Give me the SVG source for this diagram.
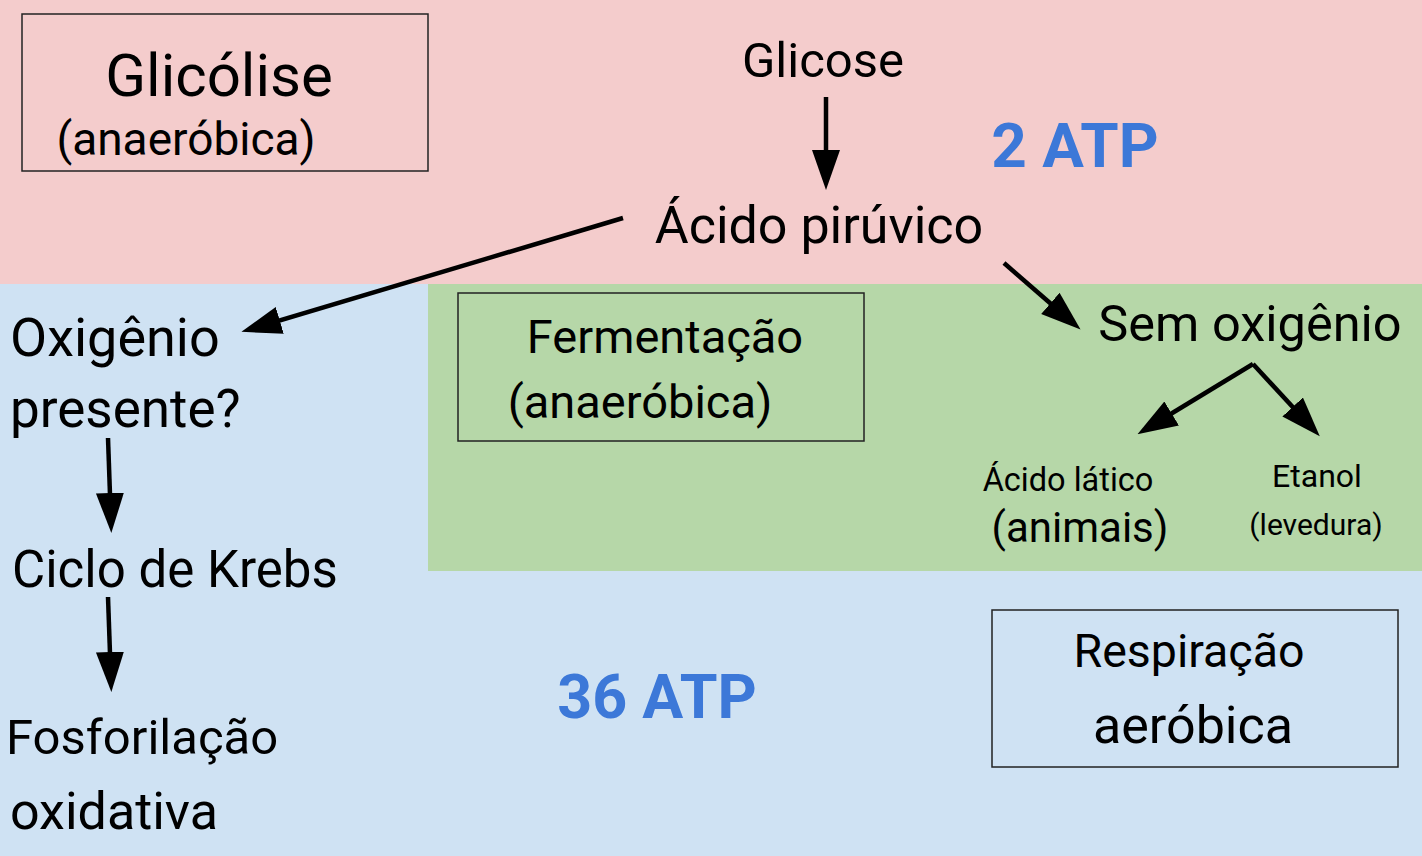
<svg xmlns="http://www.w3.org/2000/svg" width="1422" height="856" viewBox="0 0 1422 856">
<style>
.t{font-family:Roboto,"Open Sans",sans-serif;fill:#000}
.m{text-anchor:middle}
.atp{font-family:Roboto,"Open Sans",sans-serif;font-weight:bold;fill:#3c78d8;text-anchor:middle}
.box{fill:none;stroke:#222;stroke-width:1.5}
.arr{stroke:#000;stroke-width:4.5;fill:none;marker-end:url(#ah)}
</style>
<defs>
<marker id="ah" markerUnits="userSpaceOnUse" markerWidth="40" markerHeight="30" refX="30" refY="15" orient="auto">
<path d="M0,1 L40,15 L0,29 z" fill="#000"/>
</marker>
</defs>
<g id="backgrounds">
<rect x="0" y="0" width="1422" height="284" fill="#f4cccc"/>
<rect x="0" y="284" width="1422" height="572" fill="#cfe2f3"/>
<rect x="428" y="284" width="994" height="287" fill="#b6d7a8"/>
</g>
<g id="glicolise">
<rect class="box" x="22" y="14" width="406" height="157"/>
<text class="t m" x="219" y="96" font-size="60">Glicólise</text>
<text class="t m" x="186" y="155" font-size="46">(anaeróbica)</text>
</g>
<g id="glicose"><text class="t m" x="823" y="77" font-size="49">Glicose</text></g>
<g id="atp2"><text class="atp" x="1075" y="167" font-size="62">2 ATP</text></g>
<g id="piruvico"><text class="t m" x="819" y="243" font-size="52">Ácido pirúvico</text></g>
<g id="oxigenio">
<text class="t" x="10" y="356" font-size="54">Oxigênio</text>
<text class="t" x="10" y="427" font-size="53">presente?</text>
</g>
<g id="fermentacao">
<rect class="box" x="458" y="293" width="406" height="148"/>
<text class="t m" x="665" y="353" font-size="47">Fermentação</text>
<text class="t m" x="640" y="418" font-size="47">(anaeróbica)</text>
</g>
<g id="sem"><text class="t m" x="1250" y="341" font-size="50.5">Sem oxigênio</text></g>
<g id="latico">
<text class="t m" x="1068" y="491" font-size="32.5">Ácido lático</text>
<text class="t m" x="1080" y="542" font-size="42">(animais)</text>
</g>
<g id="etanol">
<text class="t m" x="1317" y="487" font-size="32">Etanol</text>
<text class="t m" x="1316" y="535" font-size="30">(levedura)</text>
</g>
<g id="krebs"><text class="t" x="12" y="587" font-size="51">Ciclo de Krebs</text></g>
<g id="fosforilacao">
<text class="t" x="6" y="754" font-size="49">Fosforilação</text>
<text class="t" x="10" y="829" font-size="52">oxidativa</text>
</g>
<g id="atp36"><text class="atp" x="657" y="718" font-size="61">36 ATP</text></g>
<g id="respiracao">
<rect class="box" x="992" y="610" width="406" height="157"/>
<text class="t m" x="1189" y="667" font-size="46.5">Respiração</text>
<text class="t m" x="1193" y="743" font-size="52">aeróbica</text>
</g>
<g id="connectors">
<line class="arr" x1="826" y1="97" x2="826" y2="180"/>
<line class="arr" x1="623" y1="218" x2="251" y2="329"/>
<line class="arr" x1="1004" y1="263" x2="1073" y2="323"/>
<line class="arr" x1="1253" y1="364" x2="1146" y2="429"/>
<line class="arr" x1="1253" y1="364" x2="1313" y2="429"/>
<line class="arr" x1="108" y1="438" x2="111" y2="523"/>
<line class="arr" x1="108" y1="597" x2="111" y2="682"/>
</g>
</svg>
